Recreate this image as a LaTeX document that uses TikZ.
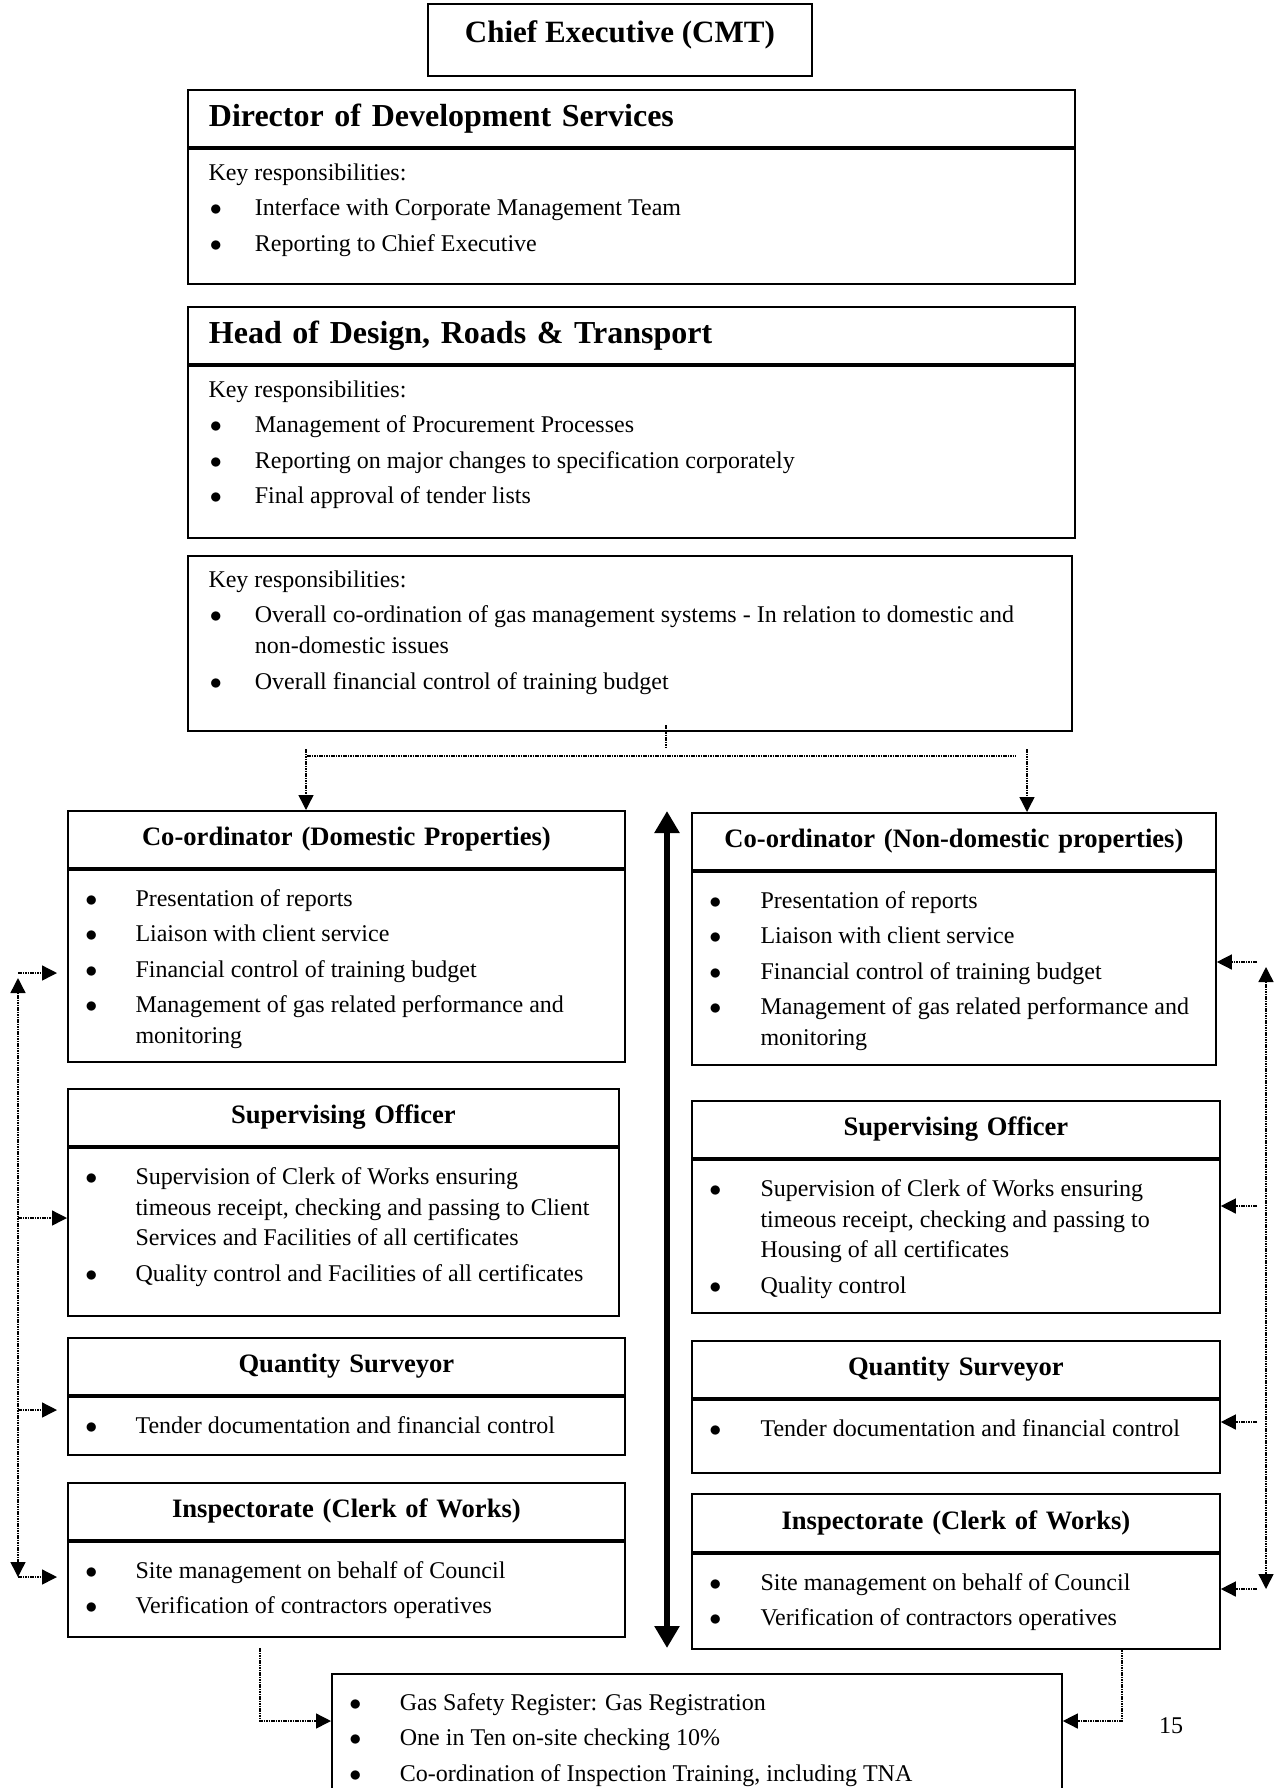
\documentclass[tikz,border=0pt]{standalone}
\usepackage{fontspec}
\setmainfont{Liberation Serif}
\usetikzlibrary{arrows.meta}
\newcommand{\li}{\hspace*{8.7pt}{\large$\bullet$}}
\newcommand{\lu}{\hspace*{11pt}{\large$\bullet$}}
\newcommand{\boxtext}[4]{\parbox[c][#2][t]{#1}{\vspace*{#3}#4}}

\begin{document}
\begin{tikzpicture}[x=0.5pt, y=-0.5pt,
    titlebox/.style={draw, line width=0.9pt, inner sep=0pt, anchor=north west,
      minimum height=28.5pt, align=center, font=\fontsize{13.3}{16}\selectfont\bfseries},
    textbox/.style={draw, line width=0.9pt, inner sep=0pt, anchor=north west,
      font=\fontsize{12}{15.4}\selectfont},
    dotline/.style={line width=0.7pt, dash pattern=on 0.8pt off 0.4pt},
    dotarrow/.style={dotline, -{Triangle[width=7.5pt,length=7.5pt]}},
    twoarrow/.style={dotline, {Triangle[width=7.5pt,length=7.5pt]}-{Triangle[width=7.5pt,length=7.5pt]}},
    bigarrow/.style={line width=3pt, {Triangle[width=12pt,length=11pt]}-{Triangle[width=12pt,length=11pt]}}]
  \clip (0,0) rectangle (1282,1788);

  % top of the chart
  \node[titlebox, minimum width=192pt, minimum height=36pt, text height=12pt, text depth=9.3pt,
    font=\fontsize{15.5}{18}\selectfont\bfseries] (a) at (427,3) {Chief Executive (CMT)};
  \node[titlebox, text width=443.5pt, align=left, font=\fontsize{16}{19}\selectfont\bfseries]
    (b) at (187,89) {\hspace*{10.5pt}Director of Development Services};
  \node[textbox] (b1) at (b.south west) {\boxtext{443.5pt}{67.5pt}{5pt}{%
    \begin{tabular}{@{}p{33.5pt}@{}l@{}}
      \multicolumn{2}{@{\hspace*{10.3pt}}l@{}}{Key responsibilities:}\\[2.3pt]
      \lu & Interface with Corporate Management Team\\[2.3pt]
      \lu & Reporting to Chief Executive
    \end{tabular}}};
  \node[titlebox, text width=443.5pt, align=left, font=\fontsize{16}{19}\selectfont\bfseries]
    (c) at (187,306) {\hspace*{10.5pt}Head of Design, Roads \& Transport};
  \node[textbox] (c1) at (c.south west) {\boxtext{443.5pt}{86pt}{5pt}{%
    \begin{tabular}{@{}p{33.5pt}@{}l@{}}
      \multicolumn{2}{@{\hspace*{10.3pt}}l@{}}{Key responsibilities:}\\[2.3pt]
      \lu & Management of Procurement Processes\\[2.3pt]
      \lu & Reporting on major changes to specification corporately\\[2.3pt]
      \lu & Final approval of tender lists
    \end{tabular}}};
  \node[textbox] (e) at (187,555) {\boxtext{442pt}{87.5pt}{5pt}{%
    \begin{tabular}{@{}p{33.5pt}@{}l@{}}
      \multicolumn{2}{@{\hspace*{10.3pt}}l@{}}{Key responsibilities:}\\[2.3pt]
      \lu & Overall co-ordination of gas management systems - In relation to domestic and\\
          & non-domestic issues\\[2.3pt]
      \lu & Overall financial control of training budget
    \end{tabular}}};

  % domestic column
  \node[titlebox, text width=278.5pt] (f) at (67,810) {Co-ordinator (Domestic Properties)};
  \node[textbox] (f1) at (f.south west) {\boxtext{278.5pt}{96pt}{7.5pt}{%
    \begin{tabular}{@{}p{33.8pt}@{}l@{}}
      \li & Presentation of reports\\[2.3pt]
      \li & Liaison with client service\\[2.3pt]
      \li & Financial control of training budget\\[2.3pt]
      \li & Management of gas related performance and\\
          & monitoring
    \end{tabular}}};
  \node[titlebox, text width=275.5pt] (g) at (67,1088) {Supervising Officer};
  \node[textbox] (g1) at (g.south west) {\boxtext{275.5pt}{84pt}{7.5pt}{%
    \begin{tabular}{@{}p{33.8pt}@{}l@{}}
      \li & Supervision of Clerk of Works ensuring\\
          & timeous receipt, checking and passing to Client\\
          & Services and Facilities of all certificates\\[2.3pt]
      \li & Quality control and Facilities of all certificates
    \end{tabular}}};
  \node[titlebox, text width=278.5pt] (h) at (67,1337) {Quantity Surveyor};
  \node[textbox] (h1) at (h.south west) {\boxtext{278.5pt}{29pt}{7.5pt}{%
    \begin{tabular}{@{}p{33.8pt}@{}l@{}}
      \li & Tender documentation and financial control
    \end{tabular}}};
  \node[titlebox, text width=278.5pt] (i) at (67,1482) {Inspectorate (Clerk of Works)};
  \node[textbox] (i1) at (i.south west) {\boxtext{278.5pt}{47.5pt}{7.5pt}{%
    \begin{tabular}{@{}p{33.8pt}@{}l@{}}
      \li & Site management on behalf of Council\\[2.3pt]
      \li & Verification of contractors operatives
    \end{tabular}}};

  % non-domestic column
  \node[titlebox, text width=262pt] (j) at (691,812) {Co-ordinator (Non-domestic properties)};
  \node[textbox] (j1) at (j.south west) {\boxtext{262pt}{96.5pt}{7.5pt}{%
    \begin{tabular}{@{}p{34.3pt}@{}l@{}}
      \li & Presentation of reports\\[2.3pt]
      \li & Liaison with client service\\[2.3pt]
      \li & Financial control of training budget\\[2.3pt]
      \li & Management of gas related performance and\\
          & monitoring
    \end{tabular}}};
  \node[titlebox, text width=264pt] (k) at (691,1100) {Supervising Officer};
  \node[textbox] (k1) at (k.south west) {\boxtext{264pt}{76.5pt}{7.5pt}{%
    \begin{tabular}{@{}p{34.3pt}@{}l@{}}
      \li & Supervision of Clerk of Works ensuring\\
          & timeous receipt, checking and passing to\\
          & Housing of all certificates\\[2.3pt]
      \li & Quality control
    \end{tabular}}};
  \node[titlebox, text width=264pt] (l) at (691,1340) {Quantity Surveyor};
  \node[textbox] (l1) at (l.south west) {\boxtext{264pt}{36.5pt}{7.5pt}{%
    \begin{tabular}{@{}p{34.3pt}@{}l@{}}
      \li & Tender documentation and financial control
    \end{tabular}}};
  \node[titlebox, text width=264pt, minimum height=29pt] (m) at (691,1493) {Inspectorate (Clerk of Works)};
  \node[textbox] (m1) at (m.south west) {\boxtext{264pt}{47.5pt}{7.5pt}{%
    \begin{tabular}{@{}p{34.3pt}@{}l@{}}
      \li & Site management on behalf of Council\\[2.3pt]
      \li & Verification of contractors operatives
    \end{tabular}}};

  % bottom box
  \node[textbox] (n) at (331,1673) {\boxtext{365pt}{80pt}{7.5pt}{%
    \begin{tabular}{@{}p{34pt}@{}l@{}}
      \li & Gas Safety Register: Gas Registration\\[2.3pt]
      \li & One in Ten on-site checking 10\%\\[2.3pt]
      \li & Co-ordination of Inspection Training, including TNA
    \end{tabular}}};
  \node[font=\fontsize{12}{14}\selectfont] (p) at (1171,1726) {15};

  % split below the third box
  \coordinate (t1) at (666,725);
  \coordinate (t2) at (666,747);
  \coordinate (u1) at (307,756);
  \coordinate (u2) at (1016,756);
  \coordinate (v1) at (306,749);
  \coordinate (w1) at (1027,749);
  \draw[dotline] (t1) -- (t2);
  \draw[dotline] (u1) -- (u2);
  \draw[dotarrow] (v1) -- (v1 |- f.north);
  \draw[dotarrow] (w1) -- (w1 |- j.north);

  % thick arrow between the columns
  \coordinate (s1) at (667,811);
  \coordinate (s2) at (667,1648);
  \draw[bigarrow] (s1) -- (s2);

  % left feed
  \coordinate (xt) at (18,978);
  \coordinate (xb) at (18,1577);
  \coordinate (x1) at (18,973);
  \coordinate (x2) at (18,1218);
  \coordinate (x3) at (18,1410);
  \coordinate (x4) at (18,1577);
  \draw[twoarrow] (xt) -- (xb);
  \draw[dotarrow, shorten >=5pt] (x1) -- (x1 -| f1.west);
  \draw[dotarrow] (x2) -- (x2 -| g1.west);
  \draw[dotarrow, shorten >=5pt] (x3) -- (x3 -| h1.west);
  \draw[dotarrow, shorten >=5pt] (x4) -- (x4 -| i1.west);

  % right feed
  \coordinate (yt) at (1266,967);
  \coordinate (yb) at (1266,1589);
  \coordinate (y1) at (1257,962);
  \coordinate (y2) at (1257,1206);
  \coordinate (y3) at (1257,1422);
  \coordinate (y4) at (1257,1589);
  \draw[twoarrow] (yt) -- (yb);
  \draw[dotarrow] (y1) -- (y1 -| j1.east);
  \draw[dotarrow] (y2) -- (y2 -| k1.east);
  \draw[dotarrow] (y3) -- (y3 -| l1.east);
  \draw[dotarrow] (y4) -- (y4 -| m1.east);

  % into the bottom box
  \coordinate (q1) at (260,1648);
  \coordinate (q2) at (1122,1648);
  \coordinate (qj) at (0,1721);
  \draw[dotarrow] (q1) |- (qj -| n.west);
  \draw[dotarrow] (q2) |- (qj -| n.east);
\end{tikzpicture}
\end{document}
